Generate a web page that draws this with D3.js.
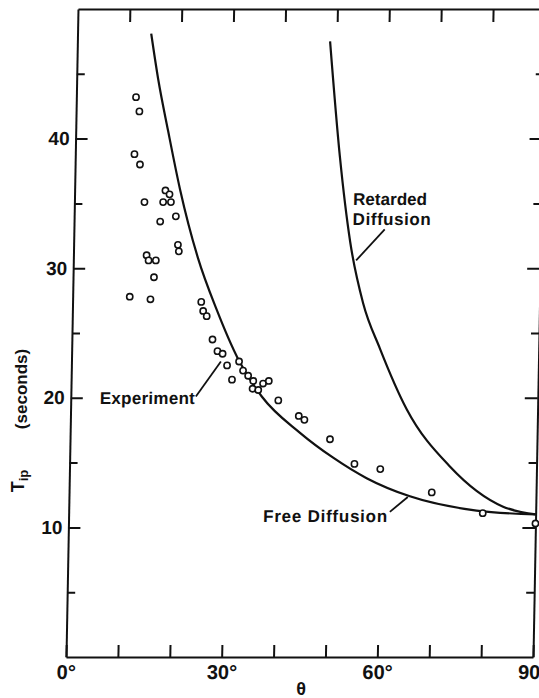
<!DOCTYPE html>
<html>
<head>
<meta charset="utf-8">
<script src="https://cdn.jsdelivr.net/npm/d3@7"></script>
<style>
  body { margin: 0; background: #fff; }
  text { font-family: "Liberation Sans", Arial, sans-serif; font-weight: bold; fill: #111; }
</style>
</head>
<body>
<div id="chart"></div>
<script>
// experiment points, theta (deg) and T_ip (seconds)
var expTheta = [11.5,12.2,11.4,12.5,17.5,18.3,13.5,17.1,18.6,19.6,16.6,20.1,20.3,14.1,14.5,15.9,15.6,11.0,15.0,
                24.8,25.2,25.9,27.1,28.1,29.1,30.0,31.0,32.3,33.1,34.1,35.1,35.0,36.1,37.0,38.1,40.0,44.0,45.1,
                50.1,54.9,59.9,69.9,79.8,90];
var expT = [43.2,42.1,38.8,38.0,36.0,35.7,35.1,35.1,35.1,34.0,33.6,31.8,31.3,31.0,30.6,30.6,29.3,27.8,27.6,
            27.4,26.7,26.3,24.5,23.6,23.4,22.5,21.4,22.8,22.1,21.7,21.3,20.7,20.6,21.1,21.3,19.8,18.6,18.3,
            16.8,14.9,14.5,12.7,11.1,10.3];

// free diffusion curve
var freeTheta = [14.2,15.7,17.8,20.3,24.0,27.8,32.1,36.8,44.3,50.7,57.3,65.7,78.6,90];
var freeT = [48.1,44.6,40.6,36.1,30.8,26.8,23.0,20.1,17.3,15.4,13.8,12.4,11.3,11.0];

// retarded diffusion curve
var retTheta = [48.7,51.0,53.3,56.0,59.4,64.8,73.3,83.7,90];
var retT = [47.5,38.6,32.0,27.3,23.8,19.1,14.7,11.6,11.0];

var xMajor = [0,30,60,90];
var xAll = [0,10,20,30,40,50,60,70,80,90];
var xTop = [10,20,30,40,50,60,70,80];
var yMajor = [10,20,30,40];
var yMinor = [5,15,25,35,45];

var W = 539, H = 698;
var svg = d3.select("#chart").append("svg")
  .attr("width", W).attr("height", H);

// the scan is slightly skewed, top edge sits ~12px right of the bottom
var g = svg.append("g")
  .attr("transform", "translate(66,657) skewX(-1.06)");

var x = d3.scaleLinear().domain([0,90]).range([0,467]);
var y = d3.scaleLinear().domain([0,50]).range([0,-648]);

function styleAxis(sel, fs){
  sel.selectAll("line").attr("stroke","#111").attr("stroke-width",2);
  sel.selectAll("path.domain").attr("stroke","#111").attr("stroke-width",2);
  sel.selectAll("text").attr("font-size",fs).attr("font-family","'Liberation Sans', Arial, sans-serif")
    .attr("font-weight","bold").attr("fill","#111");
}

// bottom
g.append("g")
  .call(d3.axisBottom(x).tickValues(xAll).tickSizeInner(-12).tickSizeOuter(0).tickPadding(8)
    .tickFormat(function(d){ return xMajor.includes(d) ? d+"°" : ""; }))
  .call(styleAxis, 20);
// top
g.append("g").attr("transform","translate(0,"+y(50)+")")
  .call(d3.axisTop(x).tickValues(xTop).tickSizeInner(-13).tickSizeOuter(0).tickFormat(""))
  .call(styleAxis, 12);
// left
g.append("g")
  .call(d3.axisLeft(y).tickValues(yMajor).tickSizeInner(-12).tickSizeOuter(0).tickPadding(6))
  .call(styleAxis, 19);
g.append("g")
  .call(d3.axisLeft(y).tickValues(yMinor).tickSizeInner(-8).tickSizeOuter(0).tickFormat(""))
  .call(styleAxis, 12)
  .select(".domain").remove();
// right
g.append("g").attr("transform","translate("+x(90)+",0)")
  .call(d3.axisRight(y).tickValues(yMajor).tickSizeInner(-13).tickSizeOuter(0).tickFormat(""))
  .call(styleAxis, 12);
g.append("g").attr("transform","translate("+x(90)+",0)")
  .call(d3.axisRight(y).tickValues(yMinor).tickSizeInner(-8).tickSizeOuter(0).tickFormat(""))
  .call(styleAxis, 12)
  .select(".domain").remove();

// curves
var line = d3.line()
  .x(function(d){ return x(d[0]); })
  .y(function(d){ return y(d[1]); })
  .curve(d3.curveMonotoneX);

g.append("path")
  .attr("d", line(d3.zip(freeTheta, freeT)))
  .attr("fill","none").attr("stroke","#111").attr("stroke-width",2.2);
g.append("path")
  .attr("d", line(d3.zip(retTheta, retT)))
  .attr("fill","none").attr("stroke","#111").attr("stroke-width",2.2);

// points
g.selectAll("circle.exp")
  .data(d3.zip(expTheta, expT))
  .enter().append("circle")
  .attr("class","exp")
  .attr("cx", function(d){ return x(d[0]); })
  .attr("cy", function(d){ return y(d[1]); })
  .attr("r", 3.1)
  .attr("fill","#fff").attr("stroke","#111").attr("stroke-width",1.6);

// annotations and leaders
function leader(a, b){
  g.append("line")
    .attr("x1", x(a[0])).attr("y1", y(a[1]))
    .attr("x2", x(b[0])).attr("y2", y(b[1]))
    .attr("stroke","#111").attr("stroke-width",1.8);
}
function label(txt, p, len){
  g.append("text")
    .attr("x", x(p[0])).attr("y", y(p[1]))
    .attr("font-size", 17)
    .attr("textLength", len).attr("lengthAdjust","spacing")
    .text(txt);
}
label("Experiment", [5.6,19.5], 95);
leader([24.1,20.1],[28.8,22.8]);
label("Free Diffusion", [37.5,10.4], 124);
leader([61.9,11.2],[65.3,12.35]);
label("Retarded", [53.7,34.9], 74);
label("Diffusion", [53.7,33.3], 78);
leader([59.9,33.0],[54.5,30.6]);

// axis titles
svg.append("text")
  .attr("x", 301).attr("y", 695)
  .attr("text-anchor","middle")
  .attr("font-size", 18)
  .text("θ");

svg.append("text")
  .attr("transform","translate(27,389) rotate(-90)")
  .attr("text-anchor","middle")
  .attr("font-size", 17)
  .text("(seconds)");

var tl = svg.append("text")
  .attr("transform","translate(24,481) rotate(-90)")
  .attr("text-anchor","middle")
  .attr("font-size", 18);
tl.append("tspan").text("T");
tl.append("tspan").attr("dy", 4).attr("font-size", 13).text("ip");
</script>
</body>
</html>
